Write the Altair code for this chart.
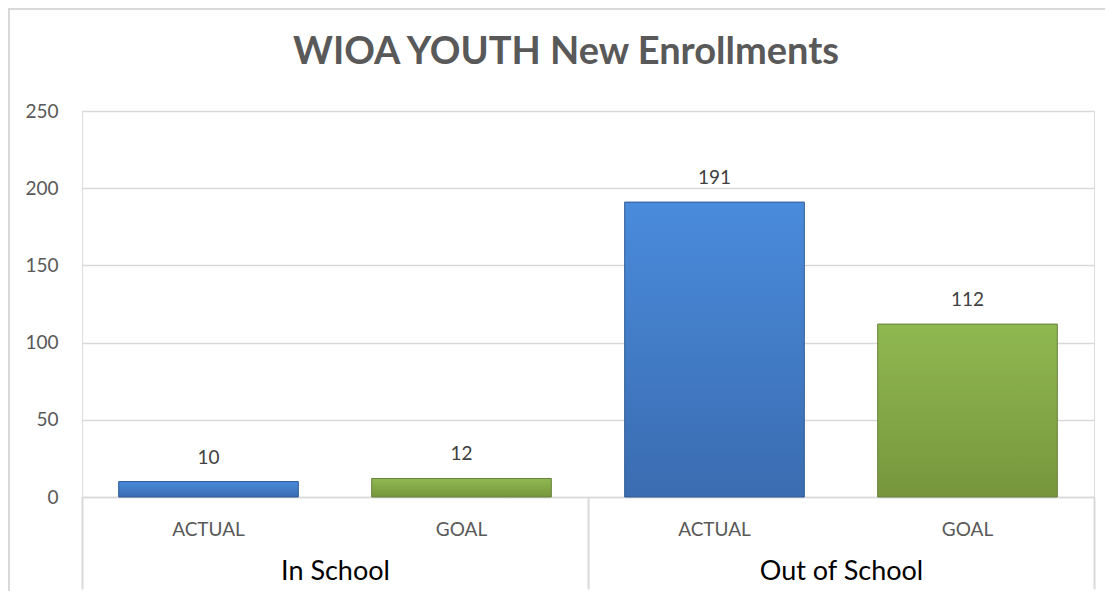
import altair as alt
import pandas as pd

# ---- data ----
groups = ["In School", "In School", "Out of School", "Out of School"]
measures = ["ACTUAL", "GOAL", "ACTUAL", "GOAL"]
values = [10, 12, 191, 112]
y_ticks = [0, 50, 100, 150, 200, 250]
title_text = "WIOA YOUTH New Enrollments"

df = pd.DataFrame({"group": groups, "measure": measures, "value": values})
df["key"] = df["group"] + "|" + df["measure"]
key_order = list(df["key"])
group_order = ["In School", "Out of School"]

FONT = "Lato"
W, H = 1012, 386
GRID = "#d9d9d9"

x_key = alt.X(
    "key:N",
    sort=key_order,
    scale=alt.Scale(domain=key_order, paddingInner=0.29, paddingOuter=0.145),
    axis=alt.Axis(
        title=None,
        orient="bottom",
        labelExpr="split(datum.value, '|')[1]",
        labelAngle=0,
        labelFont=FONT,
        labelFontSize=19,
        labelColor="#595959",
        labelPadding=23,
        labelBaseline="top",
        ticks=False,
        tickSize=0,
        domain=True,
        domainColor=GRID,
        domainWidth=1.5,
        grid=False,
    ),
)
y_val = alt.Y(
    "value:Q",
    scale=alt.Scale(domain=[0, 250], nice=False),
    axis=alt.Axis(
        title=None,
        values=y_ticks,
        labelFont=FONT,
        labelFontSize=19,
        labelColor="#595959",
        labelPadding=24,
        ticks=False,
        tickSize=0,
        domain=False,
        grid=True,
        gridColor=GRID,
        gridWidth=1.5,
    ),
)

blue_grad = alt.Gradient(
    gradient="linear", x1=0, y1=0, x2=0, y2=1,
    stops=[alt.GradientStop(color="#4a8bdc", offset=0),
           alt.GradientStop(color="#3a6cb0", offset=1)],
)
green_grad = alt.Gradient(
    gradient="linear", x1=0, y1=0, x2=0, y2=1,
    stops=[alt.GradientStop(color="#8fb851", offset=0),
           alt.GradientStop(color="#77963c", offset=1)],
)

base = alt.Chart(df)

frame = base.transform_filter("datum.key == '" + key_order[0] + "'").mark_rect(
    fillOpacity=0, stroke=GRID, strokeWidth=2
).encode(
    x=alt.value(-73), x2=alt.value(W + 40), y=alt.value(-102), y2=alt.value(H + 120)
)

bars_actual = base.transform_filter("datum.measure == 'ACTUAL'").mark_bar(
    color=blue_grad, stroke="#2f5b94", strokeWidth=1
).encode(x=x_key, y=y_val)

bars_goal = base.transform_filter("datum.measure == 'GOAL'").mark_bar(
    color=green_grad, stroke="#66803a", strokeWidth=1
).encode(x=x_key, y=y_val)

labels = base.mark_text(
    font=FONT, fontSize=19, color="#404040", baseline="bottom", dy=-14
).encode(x=x_key, y=y_val, text="value:Q")

main = alt.layer(bars_actual, bars_goal, labels)

group_axis = base.mark_point(opacity=0).encode(
    x=alt.X(
        "group:N",
        sort=group_order,
        scale=alt.Scale(domain=group_order, paddingInner=0, paddingOuter=0),
        axis=alt.Axis(
            title=None,
            orient="bottom",
            labelAngle=0,
            labelFont=FONT,
            labelFontSize=27,
            labelColor="#000000",
            labelPadding=-31,
            labelBaseline="top",
            tickBand="extent",
            ticks=True,
            tickSize=92,
            tickWidth=2,
            tickColor=GRID,
            domain=False,
            grid=False,
        ),
    ),
    y=alt.value(0),
)

chart = (
    alt.layer(frame, main, group_axis)
    .resolve_scale(x="independent")
    .properties(
        width=W,
        height=H,
        autosize=alt.AutoSizeParams(type="none"),
        padding={"left": 74, "top": 103, "right": 11, "bottom": 94},
        title=alt.TitleParams(
            text=title_text,
            font=FONT,
            fontSize=38,
            fontWeight="bold",
            color="#595959",
            anchor="middle",
            frame="group",
            baseline="alphabetic",
            offset=-94,
            dx=-22,
        ),
    )
    .configure_view(stroke=None)
    .configure(background="white")
)

chart.save("out.html", embed_options={"renderer": "svg", "actions": False})
